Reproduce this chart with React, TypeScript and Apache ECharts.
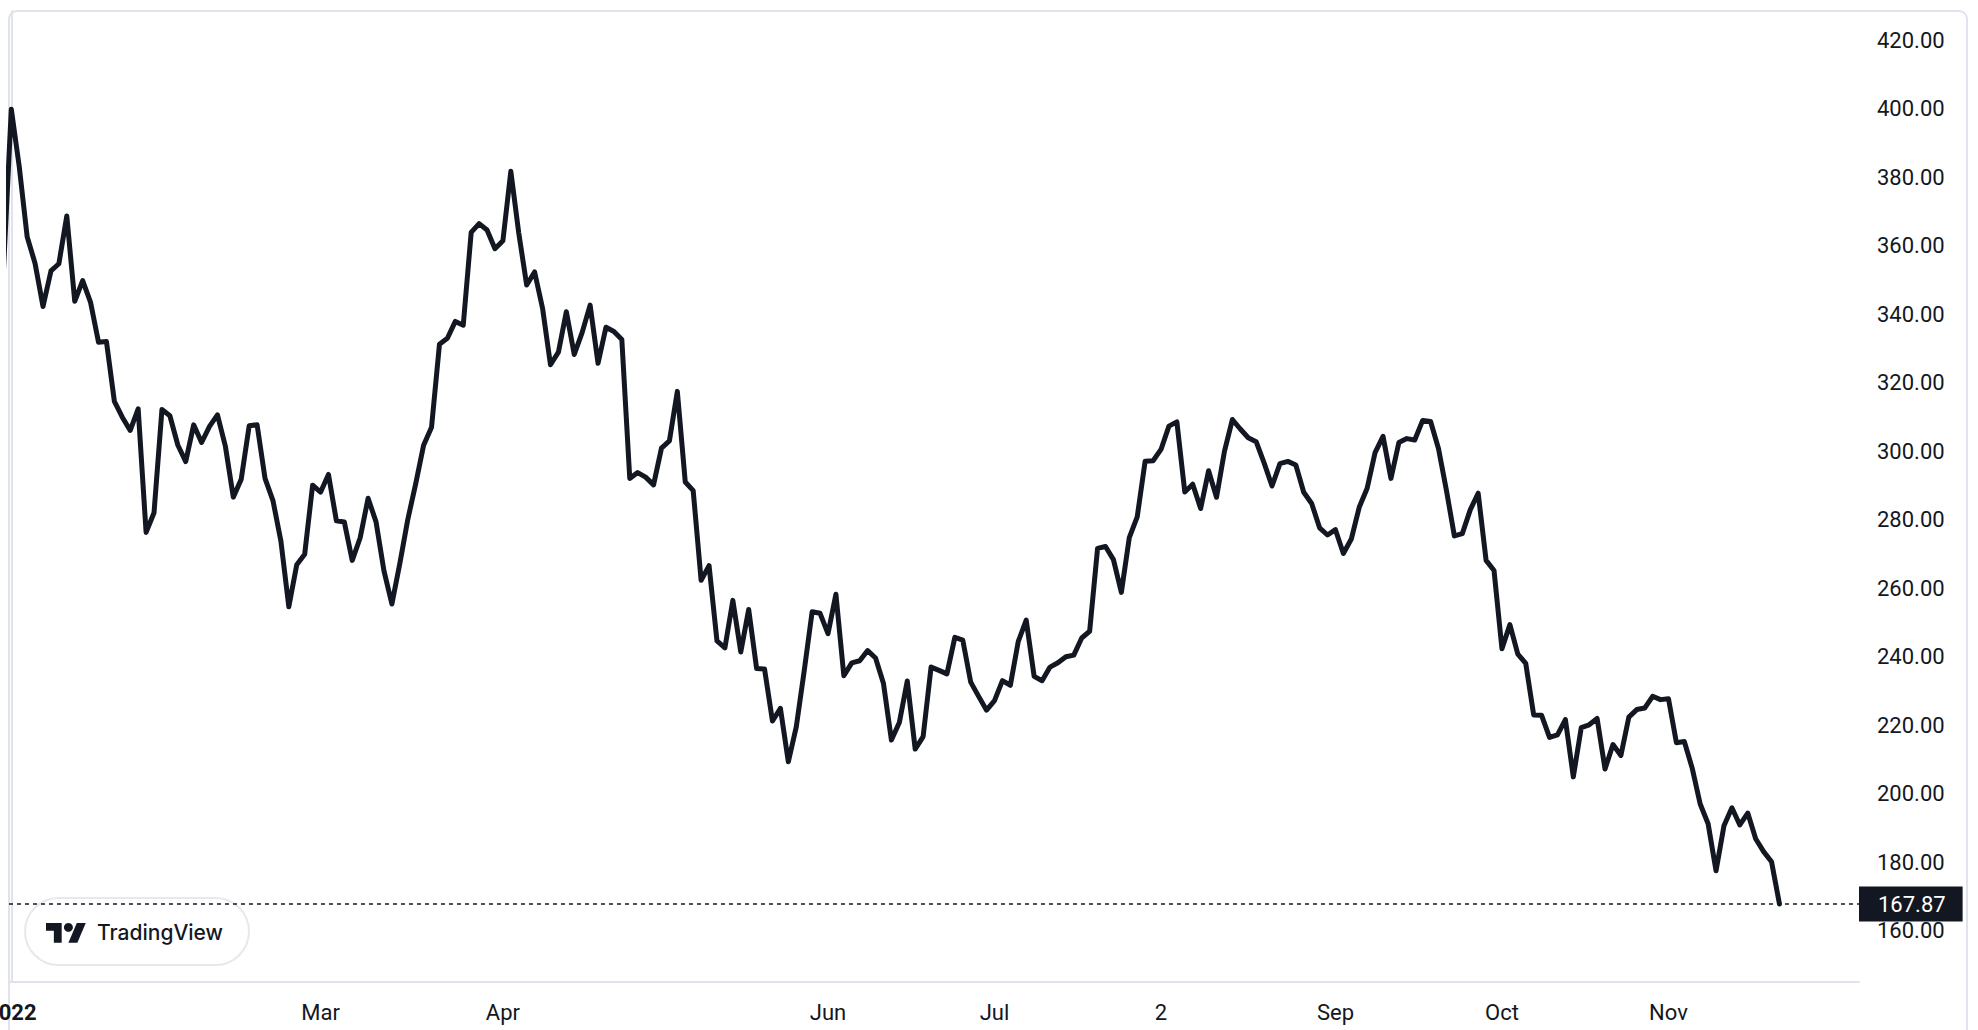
import React, { useEffect, useRef } from "react";
import * as echarts from "echarts";

// Daily closes (previous session + Jan 3 .. Nov 21, 2022)
const prevClose = [352.26];
const jan = [399.93, 383.2, 362.71, 354.9, 342.32, 352.71, 354.8, 368.74, 343.85, 349.87, 343.5, 331.88, 332.09, 314.63, 310.0, 306.13, 312.47, 276.37, 282.12, 312.24];
const feb = [310.42, 301.89, 297.05, 307.77, 302.62, 307.33, 310.67, 301.52, 286.67, 291.92, 307.48, 307.8, 292.12, 285.66, 273.84, 254.68, 266.92, 269.96, 290.14];
const mar = [288.12, 293.3, 279.76, 279.43, 268.19, 274.8, 286.32, 279.43, 265.12, 255.46, 267.3, 280.08, 290.53, 301.8, 307.05, 331.33, 333.04, 337.97, 336.88, 363.95, 366.52, 364.66, 359.2];
const apr = [361.53, 381.82, 363.75, 348.59, 352.42, 341.83, 325.31, 328.98, 340.79, 328.33, 334.76, 342.72, 325.73, 336.26, 335.02, 332.67, 292.14, 293.84, 292.5, 290.25];
const may = [300.98, 303.08, 317.54, 291.09, 288.55, 262.37, 266.68, 244.67, 242.67, 256.53, 241.46, 253.87, 236.6, 236.47, 221.3, 224.97, 209.39, 219.6, 235.91, 253.21, 252.75];
const jun = [246.79, 258.33, 234.52, 238.28, 238.89, 241.87, 239.71, 232.23, 215.74, 220.89, 233.0, 213.1, 216.76, 237.04, 236.09, 235.07, 245.71, 244.92, 232.66, 228.49, 224.47];
const jul = [227.26, 233.07, 231.73, 244.54, 250.76, 234.34, 233.07, 237.04, 238.31, 240.07, 240.55, 245.53, 247.5, 271.71, 272.24, 268.43, 258.86, 274.82, 280.9, 297.15];
const aug = [297.28, 300.59, 307.4, 308.63, 288.17, 290.42, 283.33, 294.36, 286.63, 300.03, 309.32, 306.56, 303.99, 302.87, 296.67, 289.91, 296.45, 297.1, 296.07, 288.09, 284.82, 277.7, 275.61];
const sep = [277.16, 270.21, 274.42, 283.7, 289.26, 299.68, 304.42, 292.13, 302.61, 303.75, 303.35, 309.07, 308.73, 300.8, 288.59, 275.33, 276.01, 282.94, 287.81, 268.21, 265.25];
const oct = [242.4, 249.44, 240.81, 238.13, 223.07, 222.96, 216.5, 217.24, 221.72, 204.99, 219.35, 220.19, 222.04, 207.28, 214.44, 211.25, 222.42, 224.64, 225.09, 228.52, 227.54];
const nov = [227.82, 214.98, 215.31, 207.47, 197.08, 191.3, 177.59, 190.72, 195.97, 190.95, 194.42, 186.92, 183.17, 180.19, 167.87];

// Time-axis labels (bar index -> label)
const tickIdx = [0, 39, 62, 103, 124, 145, 167, 188, 209];
const tickLabels = ["2022", "Mar", "Apr", "Jun", "Jul", "2", "Sep", "Oct", "Nov"];

// Price-axis labels
const priceTicks = [160, 180, 200, 220, 240, 260, 280, 300, 320, 340, 360, 380, 400, 420];

const INK = "#131722";
const BORDER = "#e0e3eb";
const FONT = "Roboto, 'Noto Sans', sans-serif";

export default function App() {
  const ref = useRef<HTMLDivElement>(null);

  useEffect(() => {
    document.body.style.margin = "0";
    if (!ref.current) return;
    const chart = echarts.init(ref.current, undefined, { renderer: "svg" });

    const closes = [...jan, ...feb, ...mar, ...apr, ...may, ...jun, ...jul, ...aug, ...sep, ...oct, ...nov];
    const all = [...prevClose, ...closes];
    const seriesData = all.map((v, i) => [i - prevClose.length, v]);
    const last = closes[closes.length - 1];

    chart.setOption({
      animation: false,
      backgroundColor: "#ffffff",
      grid: {
        left: 9,
        top: 11,
        width: 1850,
        height: 971,
        containLabel: false,
        outerBoundsMode: "none",
      },
      xAxis: {
        type: "value",
        min: -0.29,
        max: 233.03,
        splitLine: { show: false },
        axisTick: { show: false },
        axisLine: { show: true, lineStyle: { color: BORDER, width: 2 } },
        axisLabel: {
          customValues: tickIdx,
          margin: 19,
          color: INK,
          fontSize: 22,
          fontFamily: FONT,
          formatter: (v: number) => {
            const i = tickIdx.indexOf(Math.round(v));
            if (i < 0) return "";
            return i === 0 ? "{b|" + tickLabels[i] + "}" : tickLabels[i];
          },
          rich: {
            b: { fontWeight: "bold", fontSize: 22, color: INK, fontFamily: FONT },
          },
        },
      },
      yAxis: {
        type: "value",
        position: "right",
        min: 145.1,
        max: 428.6,
        scale: true,
        splitLine: { show: false },
        axisTick: { show: false },
        axisLine: { show: true, lineStyle: { color: BORDER, width: 2 } },
        axisLabel: {
          customValues: priceTicks,
          margin: 18,
          color: INK,
          fontSize: 22,
          fontFamily: FONT,
          formatter: (v: number) => v.toFixed(2),
        },
      },
      series: [
        {
          type: "line",
          data: seriesData,
          showSymbol: false,
          symbol: "none",
          clip: true,
          lineStyle: { color: INK, width: 5, join: "round", cap: "round" },
          z: 3,
          markLine: {
            silent: true,
            symbol: ["none", "none"],
            animation: false,
            lineStyle: { color: INK, type: [4, 4], width: 1.5 },
            label: {
              show: true,
              position: "end",
              distance: 0,
              formatter: () => last.toFixed(2),
              color: "#ffffff",
              backgroundColor: INK,
              fontSize: 22,
              fontFamily: FONT,
              lineHeight: 23,
              padding: [6, 17, 6, 19],
            },
            data: [{ yAxis: last }],
            z: 10,
          },
        },
      ],
      graphic: [
        {
          type: "rect",
          z: 0,
          silent: true,
          shape: { x: 9, y: 11, width: 1958, height: 1100, r: [8, 8, 0, 0] },
          style: { fill: "none", stroke: BORDER, lineWidth: 2 },
        },
        {
          type: "group",
          z: 100,
          silent: true,
          children: [
            {
              type: "rect",
              shape: { x: 25, y: 898, width: 224, height: 67, r: 33.5 },
              style: { fill: "#ffffff", stroke: "#e6e8ee", lineWidth: 2 },
            },
            {
              type: "group",
              x: 46,
              y: 918.6,
              scaleX: 1.12,
              scaleY: 1.1,
              children: [
                {
                  type: "polygon",
                  shape: { points: [[0, 4], [14, 4], [14, 22], [7, 22], [7, 11], [0, 11]] },
                  style: { fill: INK },
                },
                {
                  type: "circle",
                  shape: { cx: 20, cy: 8, r: 4 },
                  style: { fill: INK },
                },
                {
                  type: "polygon",
                  shape: { points: [[20, 22], [28, 22], [35.5, 4], [27.5, 4]] },
                  style: { fill: INK },
                },
              ],
            },
            {
              type: "text",
              x: 97,
              y: 932,
              style: {
                text: "TradingView",
                fill: INK,
                font: "500 21px Inter, Roboto, sans-serif",
                textVerticalAlign: "middle",
                verticalAlign: "middle",
              },
            },
          ],
        },
      ],
    });

    return () => chart.dispose();
  }, []);

  return <div ref={ref} style={{ width: 1978, height: 1030 }} />;
}
